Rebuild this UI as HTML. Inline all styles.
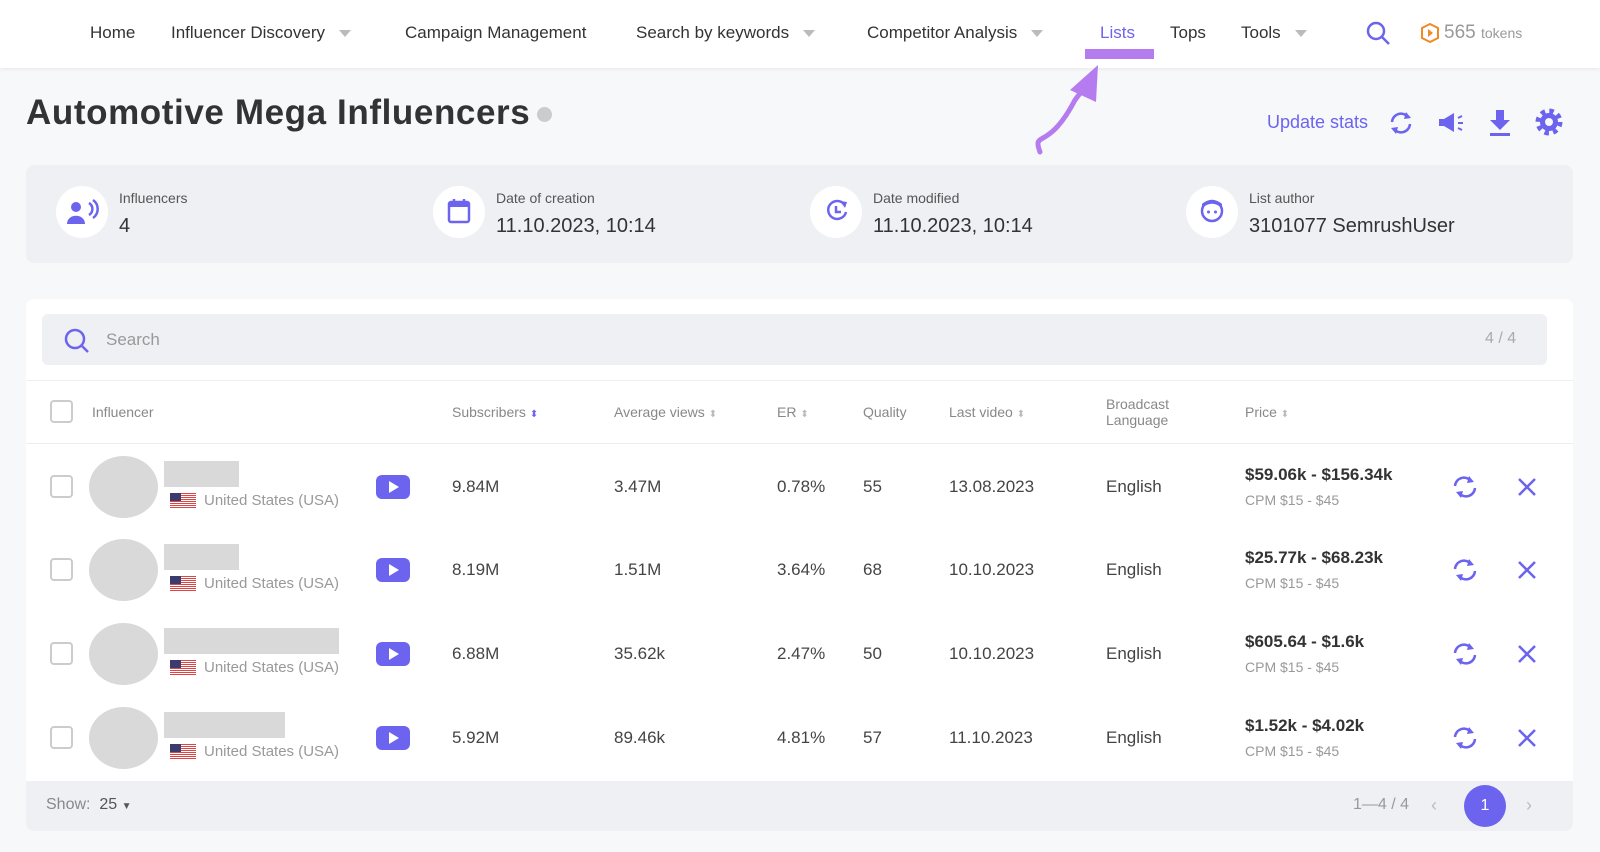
<!DOCTYPE html>
<html><head><meta charset="utf-8"><style>
*{margin:0;padding:0;box-sizing:border-box}
body{width:1600px;height:852px;background:#f7f8fa;font-family:"Liberation Sans",sans-serif;position:relative;overflow:hidden;color:#333}
.a{position:absolute;white-space:nowrap}
.nav{position:absolute;left:0;top:0;width:1600px;height:68px;background:#fff;box-shadow:0 2px 4px rgba(0,0,0,.05)}
.nv{position:absolute;top:23px;font-size:17px;color:#333}
.car{display:inline-block;width:0;height:0;border-left:6px solid transparent;border-right:6px solid transparent;border-top:7px solid #bbb;margin-left:14px;vertical-align:middle}
.card{position:absolute;left:26px;top:165px;width:1547px;height:98px;background:#eef0f3;border-radius:8px}
.ic{position:absolute;width:52px;height:52px;border-radius:50%;background:#fff;top:21px}
.lab{position:absolute;top:25px;font-size:14px;color:#555}
.val{position:absolute;top:50px;font-size:20px;color:#333}
.tbl{position:absolute;left:26px;top:299px;width:1547px;height:532px;background:#fff;border-radius:8px}
.th{position:absolute;top:404px;font-size:14px;color:#888}
.cb{position:absolute;width:23px;height:23px;border:2px solid #ccc;border-radius:4px;background:#fff}
.cell{position:absolute;font-size:17px;color:#444}
.sm{font-size:14px;color:#999}
.play{position:absolute;width:34px;height:24px;background:#6c63ef;border-radius:6px}
.play:after{content:"";position:absolute;left:13px;top:6px;border-left:10px solid #fff;border-top:6px solid transparent;border-bottom:6px solid transparent}
.sort{font-size:10px;color:#bbb}
</style></head><body>
<div class="nav">
<div class="nv" style="left:90px">Home</div>
<div class="nv" style="left:171px">Influencer Discovery<span class="car"></span></div>
<div class="nv" style="left:405px">Campaign Management</div>
<div class="nv" style="left:636px">Search by keywords<span class="car"></span></div>
<div class="nv" style="left:867px">Competitor Analysis<span class="car"></span></div>
<div class="nv" style="left:1100px;color:#6c63ef">Lists</div>
<div class="a" style="left:1085px;top:49px;width:69px;height:10px;background:#b57cf0"></div>
<div class="nv" style="left:1170px">Tops</div>
<div class="nv" style="left:1241px">Tools<span class="car"></span></div>
<svg class="a" style="left:1365px;top:20px" width="28" height="28"><circle cx="11" cy="11" r="8" fill="none" stroke="#6c63ef" stroke-width="2.5"/><line x1="17" y1="17" x2="24" y2="24" stroke="#6c63ef" stroke-width="2.5"/></svg>
<svg class="a" style="left:1420px;top:22px" width="20" height="22"><path d="M10 2 L18 6 V16 L10 20 L2 16 V6Z" fill="none" stroke="#f08a24" stroke-width="2"/><path d="M8 7 L13 11 L8 15Z" fill="#f08a24"/></svg>
<div class="a" style="left:1444px;top:22px;font-size:19px;color:#999">565 <span style="font-size:14px">tokens</span></div>
</div>
<svg class="a" style="left:1030px;top:60px" width="100" height="100"><path d="M10 92 C2 70 18 92 45 40 L60 20" fill="none" stroke="#b57cf0" stroke-width="5" stroke-linecap="round"/><path d="M40 30 L68 5 L66 42Z" fill="#b57cf0"/></svg>
<div class="a" style="left:26px;top:93px;font-size:35px;letter-spacing:0.6px;font-weight:bold;color:#333">Automotive Mega Influencers</div>
<div class="a" style="left:537px;top:107px;width:15px;height:15px;border-radius:50%;background:#ccc"></div>
<div class="a" style="left:1267px;top:112px;font-size:18px;color:#6c63ef">Update stats</div>
<svg class="a" style="left:1386px;top:108px" width="30" height="30"><path d="M6 14 A9 9 0 0 1 22 9 M24 16 A9 9 0 0 1 8 21" fill="none" stroke="#6c63ef" stroke-width="2.5"/><path d="M20 4 L25 10 L18 11Z M10 26 L5 20 L12 19Z" fill="#6c63ef"/></svg>
<svg class="a" style="left:1436px;top:110px" width="30" height="26"><path d="M3 9 H8 L18 3 V22 L8 16 H3Z" fill="#6c63ef"/><path d="M22 8 L26 6 M22 13 H27 M22 18 L26 20" stroke="#6c63ef" stroke-width="2"/></svg>
<svg class="a" style="left:1486px;top:108px" width="28" height="30"><path d="M10 2 H18 V12 H24 L14 22 L4 12 H10Z" fill="#6c63ef"/><rect x="4" y="25" width="20" height="3" fill="#6c63ef"/></svg>
<svg class="a" style="left:1533px;top:106px" width="32" height="32"><circle cx="16" cy="16" r="10" fill="none" stroke="#6c63ef" stroke-width="7" stroke-dasharray="4 3.85"/><circle cx="16" cy="16" r="9" fill="#6c63ef"/><circle cx="16" cy="16" r="4" fill="#f7f8fa"/></svg>
<div class="card">
<div class="ic" style="left:30px"></div><svg class="a" style="left:40px;top:33px" width="34" height="30"><circle cx="10" cy="9" r="5" fill="#6c63ef"/><path d="M1 26 C1 15 19 15 19 26Z" fill="#6c63ef"/><path d="M23 5 A7 7 0 0 1 23 17 M27 2 A11 11 0 0 1 27 20" fill="none" stroke="#6c63ef" stroke-width="2.5"/></svg>
<div class="lab" style="left:93px">Influencers</div><div class="val" style="left:93px">4</div>
<div class="ic" style="left:407px"></div><svg class="a" style="left:421px;top:32px" width="24" height="28"><rect x="2" y="5" width="20" height="20" rx="2" fill="none" stroke="#6c63ef" stroke-width="2.5"/><rect x="2" y="5" width="20" height="5" fill="#6c63ef"/><path d="M7 2V7 M17 2V7" stroke="#6c63ef" stroke-width="2.5"/></svg>
<div class="lab" style="left:470px">Date of creation</div><div class="val" style="left:470px">11.10.2023, 10:14</div>
<div class="ic" style="left:784px"></div><svg class="a" style="left:798px;top:33px" width="26" height="26"><path d="M20 6 A9 9 0 1 0 22 14" fill="none" stroke="#6c63ef" stroke-width="2.5"/><path d="M12 8V14H17" fill="none" stroke="#6c63ef" stroke-width="2.5"/><path d="M16 3 L23 4 L21 10Z" fill="#6c63ef"/></svg>
<div class="lab" style="left:847px">Date modified</div><div class="val" style="left:847px">11.10.2023, 10:14</div>
<div class="ic" style="left:1160px"></div><svg class="a" style="left:1173px;top:33px" width="26" height="26"><circle cx="13" cy="13" r="10" fill="none" stroke="#6c63ef" stroke-width="2.5"/><path d="M3 11 C8 4 18 4 23 11 L23 6 C18 1 8 1 3 6Z" fill="#6c63ef"/><circle cx="9.5" cy="14" r="1.5" fill="#6c63ef"/><circle cx="16.5" cy="14" r="1.5" fill="#6c63ef"/></svg>
<div class="lab" style="left:1223px">List author</div><div class="val" style="left:1223px">3101077 SemrushUser</div>
</div>
<div class="tbl"></div>
<div class="a" style="left:42px;top:314px;width:1505px;height:51px;background:#eef0f3;border-radius:6px"></div>
<svg class="a" style="left:63px;top:327px" width="28" height="28"><circle cx="12" cy="12" r="9" fill="none" stroke="#6c63ef" stroke-width="2.5"/><line x1="18.5" y1="18.5" x2="25" y2="25" stroke="#6c63ef" stroke-width="2.5"/></svg>
<div class="a" style="left:106px;top:330px;font-size:17px;color:#999">Search</div>
<div class="a" style="left:1485px;top:330px;font-size:16px;color:#aaa">4 / 4</div>
<div class="a" style="left:26px;top:380px;width:1547px;height:1px;background:#f0f0f0"></div>
<div class="cb" style="left:50px;top:400px"></div>
<div class="th" style="left:92px">Influencer</div>
<div class="th" style="left:452px">Subscribers <span class="sort" style="color:#6c63ef">⬍</span></div>
<div class="th" style="left:614px">Average views <span class="sort">⬍</span></div>
<div class="th" style="left:777px">ER <span class="sort">⬍</span></div>
<div class="th" style="left:863px">Quality</div>
<div class="th" style="left:949px">Last video <span class="sort">⬍</span></div>
<div class="th" style="left:1106px;top:396px;line-height:16px">Broadcast<br>Language</div>
<div class="th" style="left:1245px">Price <span class="sort">⬍</span></div>
<div class="a" style="left:26px;top:443px;width:1547px;height:1px;background:#eee"></div>

<div id="rows"></div>
<div class="a" style="left:26px;top:781px;width:1547px;height:50px;background:#eef0f3;border-radius:0 0 8px 8px"></div>
<div class="a" style="left:46px;top:796px;font-size:16px;color:#888">Show:&nbsp; <span style="color:#555">25</span> <span style="font-size:10px;color:#555">▼</span></div>
<div class="a" style="left:1353px;top:796px;font-size:16px;color:#999">1—4 / 4</div>
<div class="a" style="left:1431px;top:795px;font-size:18px;color:#bbb">‹</div>
<div class="a" style="left:1464px;top:785px;width:42px;height:42px;border-radius:50%;background:#6c63ef;color:#fff;font-size:16px;text-align:center;line-height:42px">1</div>
<div class="a" style="left:1526px;top:795px;font-size:18px;color:#bbb">›</div>

<script>
var rows=[[487,75,"9.84M","3.47M","0.78%","55","13.08.2023","$59.06k - $156.34k"],[570,75,"8.19M","1.51M","3.64%","68","10.10.2023","$25.77k - $68.23k"],[654,175,"6.88M","35.62k","2.47%","50","10.10.2023","$605.64 - $1.6k"],[738,121,"5.92M","89.46k","4.81%","57","11.10.2023","$1.52k - $4.02k"]];
var h="";
rows.forEach(function(r){var y=r[0];
h+='<div class="cb" style="left:50px;top:'+(y-12)+'px"></div>';
h+='<div class="a" style="left:89px;top:'+(y-31)+'px;width:69px;height:62px;border-radius:50%;background:#d9d9d9"></div>';
h+='<div class="a" style="left:164px;top:'+(y-26)+'px;width:'+r[1]+'px;height:26px;background:#d9d9d9"></div>';
h+='<svg class="a" style="left:170px;top:'+(y+6)+'px" width="26" height="16"><rect width="26" height="16" fill="#fff"/><g fill="#d44">'+[0,1,2,3,4,5,6,7].map(function(i){return '<rect y="'+(i*2)+'" width="26" height="1"/>'}).join('')+'</g><rect width="11" height="8" fill="#3c3b6e"/></svg>';
h+='<div class="a sm" style="left:204px;top:'+(y+5)+'px;font-size:15px">United States (USA)</div>';
h+='<div class="play" style="left:376px;top:'+(y-12)+'px"></div>';
h+='<div class="cell" style="left:452px;top:'+(y-10)+'px">'+r[2]+'</div>';
h+='<div class="cell" style="left:614px;top:'+(y-10)+'px">'+r[3]+'</div>';
h+='<div class="cell" style="left:777px;top:'+(y-10)+'px">'+r[4]+'</div>';
h+='<div class="cell" style="left:863px;top:'+(y-10)+'px">'+r[5]+'</div>';
h+='<div class="cell" style="left:949px;top:'+(y-10)+'px">'+r[6]+'</div>';
h+='<div class="cell" style="left:1106px;top:'+(y-10)+'px">English</div>';
h+='<div class="cell" style="left:1245px;top:'+(y-22)+'px;font-weight:bold;color:#333">'+r[7]+'</div>';
h+='<div class="a sm" style="left:1245px;top:'+(y+5)+'px">CPM $15 - $45</div>';
h+='<svg class="a" style="left:1450px;top:'+(y-14)+'px" width="30" height="28"><path d="M5 13 A9 9 0 0 1 21 8 M25 15 A9 9 0 0 1 9 20" fill="none" stroke="#6c63ef" stroke-width="2.5"/><path d="M19 3 L24 9 L17 10Z M11 25 L6 19 L13 18Z" fill="#6c63ef"/></svg>';
h+='<svg class="a" style="left:1517px;top:'+(y-10)+'px" width="20" height="20"><path d="M2 2L18 18M18 2L2 18" stroke="#6c63ef" stroke-width="2.5"/></svg>';
});
document.getElementById("rows").innerHTML=h;
</script>
</body></html>
